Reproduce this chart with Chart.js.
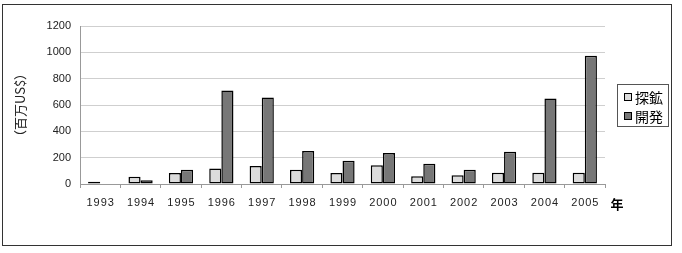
<!DOCTYPE html>
<html>
<head>
<meta charset="utf-8">
<script src="https://cdn.jsdelivr.net/npm/chart.js@4"></script>
<style>
  html, body { margin: 0; padding: 0; background: #fff; }
  #wrap { position: relative; width: 682px; height: 253px; }
  #frame { position: absolute; left: 2px; top: 4px; width: 670px; height: 242px; border: 1px solid #333; box-sizing: border-box; pointer-events: none; }
  canvas { position: absolute; left: 0; top: 0; }
</style>
</head>
<body>
<div id="wrap">
  <canvas id="chart" width="682" height="253"></canvas>
  <div id="frame"></div>
</div>
<script>
// ---------- Data ----------
const years = ["1993", "1994", "1995", "1996", "1997", "1998", "1999", "2000", "2001", "2002", "2003", "2004", "2005"];
const exploration = [17, 55, 83, 118, 136, 108, 83, 143, 58, 66, 85, 85, 85]; // 探鉱
const development = [null, 28, 108, 710, 657, 251, 176, 236, 153, 108, 244, 649, 974]; // 開発
const yTicks = [0, 200, 400, 600, 800, 1000, 1200];
const seriesNames = ["探鉱", "開発"];
const yTitle = "（百万US$）";
const xUnit = "年";

const FONT = "'Liberation Sans', Arial, sans-serif";
const JP_FONT = "'Noto Sans CJK JP', sans-serif";

// ---------- Extra drawing: legend box and unit label ----------
const extrasPlugin = {
  id: "extras",
  afterDraw(chart) {
    const ctx = chart.ctx;
    ctx.save();
    // legend box
    ctx.strokeStyle = "#555";
    ctx.lineWidth = 1;
    ctx.strokeRect(617.5, 84.5, 51, 42);
    chart.data.datasets.forEach((ds, i) => {
      const cy = 97 + i * 19;
      ctx.fillStyle = ds.backgroundColor;
      ctx.fillRect(624, cy - 4, 8, 8);
      ctx.strokeStyle = "#000";
      ctx.strokeRect(624.5, cy - 3.5, 7, 7);
      ctx.fillStyle = "#000";
      ctx.font = "14px " + JP_FONT;
      ctx.textBaseline = "middle";
      ctx.textAlign = "left";
      ctx.fillText(ds.label, 635, cy + 1);
    });
    // unit label on x axis
    ctx.font = "bold 13px " + JP_FONT;
    ctx.textAlign = "center";
    ctx.textBaseline = "middle";
    ctx.fillText(xUnit, 617, 204);
    ctx.restore();
  }
};

const ctx = document.getElementById("chart");
new Chart(ctx, {
  type: "bar",
  data: {
    labels: years,
    datasets: [
      {
        label: seriesNames[0],
        data: exploration,
        backgroundColor: "#dcdcdc",
        borderColor: "#000",
        borderWidth: 1.5,
        borderSkipped: false
      },
      {
        label: seriesNames[1],
        data: development,
        backgroundColor: "#777777",
        borderColor: "#000",
        borderWidth: 1.5,
        borderSkipped: false
      }
    ]
  },
  options: {
    responsive: false,
    animation: false,
    devicePixelRatio: 1,
    categoryPercentage: 0.6,
    barPercentage: 1.0,
    layout: { padding: { left: 0, right: 77, top: 26, bottom: 0 } },
    plugins: {
      legend: { display: false },
      tooltip: { enabled: false }
    },
    scales: {
      x: {
        offset: true,
        grid: {
          offset: true,
          drawOnChartArea: false,
          drawTicks: true,
          tickLength: 4,
          color: "#999"
        },
        border: { color: "#999" },
        ticks: {
          color: "#222",
          font: { family: FONT, size: 11 },
          padding: 8,
          maxRotation: 0,
          callback: (v, i) => years[i].split("").join("\u200A")
        },
        afterFit: (scale) => { scale.height = 69; }
      },
      y: {
        min: 0,
        max: 1200,
        afterBuildTicks: (scale) => { scale.ticks = yTicks.map((v) => ({ value: v })); },
        grid: { color: "#cfcfcf", drawTicks: false },
        border: { color: "#999" },
        ticks: {
          color: "#222",
          font: { family: FONT, size: 11 },
          padding: 9,
          callback: (v) => String(v)
        },
        title: {
          display: true,
          text: yTitle,
          color: "#222",
          font: { family: JP_FONT, size: 13 },
          padding: { top: 12, bottom: 0 }
        },
        afterFit: (scale) => { scale.width = 80; }
      }
    }
  },
  plugins: [extrasPlugin]
});
</script>
</body>
</html>
